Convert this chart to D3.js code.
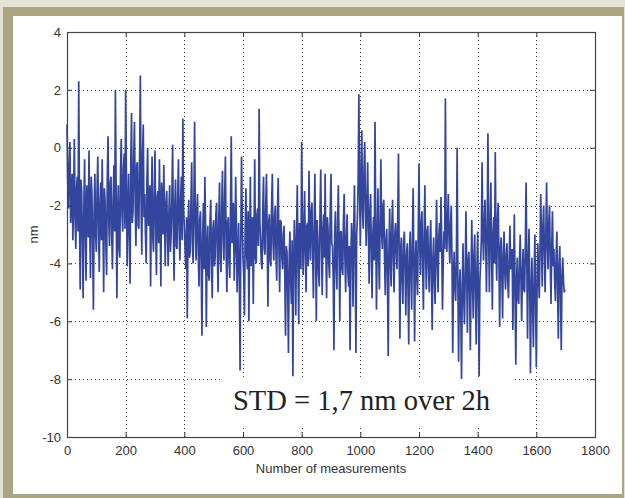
<!DOCTYPE html>
<html>
<head>
    <meta charset="utf-8">
    <title>Measurements</title>
    <script src="https://d3js.org/d3.v7.min.js"></script>
    <style>
        body { margin: 0; background: #e5e3d7; }
        svg { display: block; }
        .tick text { font-family: "Liberation Sans", Arial, sans-serif; font-size: 13px; fill: #333; }
        .tick line { stroke: #333; }
    </style>
</head>
<body>
    <div id="chart"></div>

    <script>
        // axis ticks
        var xTicks = [0, 200, 400, 600, 800, 1000, 1200, 1400, 1600, 1800];
        var yTicks = [4, 2, 0, -2, -4, -6, -8, -10];
        var step = 2.5; // one value read every 2.5 measurements

        var nm = [
            // 0 - 340
            0.8, -1.2, -2.1, -0.6, 0.2, -2.6, -1.8, -0.9, -3.2, -1.7, 0.3, -2.4, -3.5, -1.4, -1.0, -2.9, 2.3, -2.2, -4.9, -1.1,
            -1.5, -3.3, -5.2, -2.0, -0.4, -3.0, -4.6, -1.3, -2.0, -3.1, -0.1, -2.7, -4.5, -1.0, -1.6, -3.4, -5.6, -2.1, -0.9, -3.0,
            -3.6, -1.5, -0.3, -2.8, -4.3, -1.9, -1.2, -3.2, -0.4, -2.5, -5.0, -1.4, -1.9, -3.3, -4.4, -0.9, 0.4, -2.6, -3.4, -1.2,
            -1.0, -3.0, -4.2, -1.8, -0.6, -2.9, 2.0, -1.5, -5.2, -2.4, -1.3, -3.5, -3.8, -0.8, 0.3, -2.3, -2.9, -0.7, -0.2, -2.8,
            2.0, -1.0, -4.1, -2.2, -0.9, -3.1, -4.7, -0.5, 1.2, -2.6, -2.2, -0.3, 0.9, -1.9, -3.4, -0.6, -0.5, -2.7, -2.8, -0.4,
            2.5, -1.8, -3.7, -0.2, 0.8, -2.4, -1.6, -3.0, -4.0, -1.1, 0.0, -2.7, -2.5, -1.3, -4.8, -2.2, -0.3, -3.1, -3.6, -1.6,
            -0.1, -2.9, -4.4, -1.7, -1.5, -3.3, -0.4, -2.4, -4.8, -1.2, -2.0, -3.0, -0.6, -2.5, -4.1, -1.9,
            // 340 - 680
            -1.5, -3.0, -4.1, -2.2, -1.3, -3.6, -3.0, -1.8, 0.1, -2.7, -4.6, -2.0, -1.1, -3.4, -3.5, -1.6, -0.4, -2.9, -3.9, -1.7,
            -1.0, -3.2, 1.0, -2.1, -2.8, -3.5, -4.2, -2.4, -5.9, -3.0, -1.8, -3.8, -3.6, -1.9, -0.5, -3.3, -4.0, -2.0, 0.9, -2.6,
            -3.9, -2.2, -1.6, -3.7, -4.8, -2.5, -2.2, -4.0, -6.5, -3.1, -1.9, -4.2, -1.0, -2.9, -6.2, -3.4, -2.7, -4.4, -4.6, -2.6,
            -1.8, -3.9, -5.2, -2.8, -2.5, -4.1, -3.8, -2.3, -1.9, -3.6, -5.0, -2.4, -1.2, -3.8, -4.3, -2.0, -0.8, -3.1, -3.9, -1.7,
            -0.3, -3.5, -5.0, -2.6, -2.4, -4.0, -4.5, -2.1, 0.4, -3.3, -3.0, -1.9, -4.6, -3.6, -1.0, -2.7, -5.0, -3.9, -2.6, -4.3,
            -7.7, -3.2, -0.3, -2.5, -3.8, -4.4, -5.8, -2.8, -1.4, -3.7, -4.2, -2.2, -6.0, -3.5, -1.0, -4.1, -3.3, -2.4, -5.4, -3.0,
            -0.4, -3.8, -4.0, -2.3, -2.1, -3.4, 1.35, -2.6, -3.2, -4.0, -4.2, -2.1, -1.0, -3.5, -3.7, -2.0,
            // 680 - 1020
            -0.9, -3.1, -5.5, -2.6, -2.3, -3.9, -4.1, -2.0, -0.9, -3.3, -3.9, -2.4, -2.0, -3.7, -4.6, -2.2, -1.05, -3.5, -5.0, -2.5,
            -2.6, -3.8, -4.2, -3.0, -2.7, -4.4, -6.5, -3.4, -3.6, -5.0, -7.1, -3.8, -2.9, -4.6, -5.4, -3.2, -7.9, -4.3, -2.5, -3.6,
            -5.8, -3.0, -1.3, -4.0, -6.1, -2.6, -3.0, -4.2, 0.2, -2.4, -4.4, -3.1, -1.5, -3.6, -5.0, -2.7, -2.6, -4.1, -0.8, -2.9,
            -3.9, -2.2, -1.9, -3.7, -5.2, -2.8, -0.9, -3.4, -6.0, -2.5, -3.1, -4.3, -4.8, -2.3, -0.75, -3.2, -5.1, -2.9, -2.3, -3.8,
            -0.9, -3.5, -5.2, -2.4, -2.8, -4.0, -4.5, -2.1, -0.9, -3.3, -3.4, -4.4, -7.0, -3.0, -2.2, -4.1, -4.9, -2.6, -1.3, -3.6,
            -6.0, -2.9, -2.9, -4.2, -4.4, -2.5, -1.6, -3.8, -5.0, -3.1, -2.3, -4.3, -4.8, -3.4, -7.0, -4.0, -2.6, -3.2, -5.5, -2.7,
            -1.3, -3.9, -7.1, -3.0, -2.4, -1.2, 1.85, -1.5, -3.4, -1.0, 0.6, -2.2, -2.8, -0.8, 0.2, -2.0,
            // 1020 - 1360
            -3.4, -1.9, -0.5, -2.8, -4.7, -2.2, -1.6, -3.6, -5.2, -3.0, -2.4, -3.9, 0.9, -2.6, -5.6, -3.3, -1.4, -3.7, -4.9, -2.5,
            -0.4, -2.9, -3.5, -2.0, -1.8, -3.8, -5.1, -3.2, -2.8, -4.5, -7.2, -3.6, -2.1, -4.0, -4.8, -2.7, -1.8, -3.9, -5.0, -3.0,
            -2.6, -3.6, -4.2, -2.4, -0.2, -3.8, -6.6, -3.5, -3.1, -4.6, -5.4, -3.3, -2.9, -4.2, -5.8, -3.7, -3.3, -4.9, -6.8, -3.6,
            -2.9, -4.4, -5.6, -3.2, -1.4, -4.0, -6.7, -3.9, -3.2, -4.5, -5.1, -2.8, -0.55, -3.4, -4.4, -2.6, -2.2, -4.1, -5.6, -3.0,
            -1.3, -3.7, -4.9, -2.9, -2.7, -4.2, -5.0, -3.3, -2.5, -4.5, -6.3, -3.8, -3.1, -4.6, -5.4, -3.4, -1.8, -4.0, -5.0, -3.1,
            -2.6, -3.6, -1.7, -3.3, -5.6, -4.1, -2.9, -3.5, 1.7, -3.0, -3.6, -2.4, -1.6, -3.2, -4.0, -2.7, -2.0, -3.9, -7.1, -4.4,
            -3.6, -4.8, -5.3, -3.9, 0.0, -4.6, -7.4, -5.0, -4.2, -5.6, -8.0, -4.8, -3.3, -5.2, -6.1, -4.5,
            // 1360 - 1700
            -2.2, -4.1, -6.4, -3.9, -3.6, -5.0, -7.0, -4.4, -2.5, -4.7, -5.9, -3.7, -3.0, -5.1, -6.8, -4.2, -2.9, -5.3, -7.9, -4.6,
            -4.0, -3.2, -0.5, -2.9, -3.9, -2.6, -1.8, -3.4, -5.0, -2.8, 0.5, -3.1, -5.0, -2.7, -1.2, -3.6, -5.6, -3.0, -2.4, -4.0,
            -0.15, -3.3, -4.6, -2.5, -1.9, -3.8, -6.2, -3.5, -3.1, -4.5, -5.9, -3.6, -2.9, -4.3, -4.9, -3.7, -3.3, -4.6, -5.2, -3.9,
            -2.7, -4.2, -4.1, -3.5, -6.3, -4.4, -2.3, -5.0, -7.5, -4.6, -3.8, -5.2, -5.4, -4.0, -3.0, -4.5, -6.0, -4.3, -3.5, -4.9,
            -5.0, -3.4, -1.2, -3.8, -6.6, -4.1, -2.8, -4.7, -7.8, -5.0, -3.8, -5.5, -6.9, -4.6, -3.0, -5.3, -7.6, -4.9, -3.3, -4.4,
            -5.2, -3.5, -1.6, -3.2, -4.8, -2.7, -2.0, -3.6, -5.0, -3.0, -1.2, -3.3, -4.2, -2.6, -2.0, -3.9, -5.4, -3.4, -2.2, -4.1,
            -3.5, -4.6, -5.3, -3.8, -2.9, -4.9, -6.6, -4.0, -3.4, -5.1, -7.0, -4.4, -3.8, -4.6, -5.0, -4.9
        ];

        var width = 625, height = 498;
        var plotL = 67, plotR = 595, plotT = 32, plotB = 437;

        var svg = d3.select("#chart").append("svg")
            .attr("width", width)
            .attr("height", height);

        // khaki frame with white panel
        svg.append("rect")
            .attr("x", 3).attr("y", 7)
            .attr("width", 621).attr("height", 491)
            .attr("fill", "#aca582");
        svg.append("rect")
            .attr("x", 13).attr("y", 16)
            .attr("width", 609).attr("height", 478)
            .attr("fill", "#ffffff");

        var x = d3.scaleLinear().domain([0, 1800]).range([plotL, plotR]);
        var y = d3.scaleLinear().domain([-10, 4]).range([plotB, plotT]);

        // dotted grid
        var grid = svg.append("g")
            .attr("stroke", "#444")
            .attr("stroke-width", 1)
            .attr("stroke-dasharray", "1,3");
        grid.selectAll(".gx")
            .data(xTicks.slice(1, -1))
            .enter().append("line")
            .attr("x1", function(d) { return Math.round(x(d)) + 0.5; })
            .attr("x2", function(d) { return Math.round(x(d)) + 0.5; })
            .attr("y1", plotT).attr("y2", plotB);
        grid.selectAll(".gy")
            .data(yTicks.slice(1, -1))
            .enter().append("line")
            .attr("y1", function(d) { return Math.round(y(d)) + 0.5; })
            .attr("y2", function(d) { return Math.round(y(d)) + 0.5; })
            .attr("x1", plotL).attr("x2", plotR);

        // data line
        var line = d3.line()
            .x(function(d, i) { return x(i * step); })
            .y(function(d) { return y(d); });

        svg.append("path")
            .datum(nm)
            .attr("d", line)
            .attr("fill", "none")
            .attr("stroke", "#33459c")
            .attr("stroke-width", 1.7)
            .attr("stroke-linejoin", "bevel");

        // annotation box
        svg.append("rect")
            .attr("x", 223).attr("y", 379)
            .attr("width", 290).attr("height", 47)
            .attr("fill", "#ffffff");
        svg.append("text")
            .attr("x", 233)
            .attr("y", 410)
            .attr("textLength", 257)
            .attr("lengthAdjust", "spacingAndGlyphs")
            .style("font-family", "'Liberation Serif', 'Times New Roman', serif")
            .style("font-size", "30px")
            .style("fill", "#222")
            .text("STD = 1,7 nm over 2h");

        // axes: inward ticks on all four sides
        function styleAxis(g) {
            g.select(".domain").remove();
        }
        var plain = function(d) { return String(d); };
        svg.append("g")
            .attr("transform", "translate(0," + plotB + ")")
            .call(d3.axisBottom(x).tickValues(xTicks).tickSize(-5).tickPadding(9).tickFormat(plain))
            .call(styleAxis);
        svg.append("g")
            .attr("transform", "translate(0," + plotT + ")")
            .call(d3.axisTop(x).tickValues(xTicks).tickSize(-5).tickFormat(""))
            .call(styleAxis);
        svg.append("g")
            .attr("transform", "translate(" + plotL + ",0)")
            .call(d3.axisLeft(y).tickValues(yTicks).tickSize(-5).tickPadding(6).tickFormat(plain))
            .call(styleAxis);
        svg.append("g")
            .attr("transform", "translate(" + plotR + ",0)")
            .call(d3.axisRight(y).tickValues(yTicks).tickSize(-5).tickFormat(""))
            .call(styleAxis);

        // box
        svg.append("rect")
            .attr("x", plotL + 0.5).attr("y", plotT + 0.5)
            .attr("width", plotR - plotL).attr("height", plotB - plotT)
            .attr("fill", "none")
            .attr("stroke", "#444")
            .attr("stroke-width", 1.2);

        // axis labels
        svg.append("text")
            .attr("x", (plotL + plotR) / 2)
            .attr("y", 473)
            .style("text-anchor", "middle")
            .style("font-family", "'Liberation Sans', Arial, sans-serif")
            .style("font-size", "13px")
            .style("fill", "#333")
            .text("Number of measurements");

        svg.append("text")
            .attr("transform", "translate(38," + (plotT + plotB) / 2 + ") rotate(-90)")
            .style("text-anchor", "middle")
            .style("font-family", "'Liberation Sans', Arial, sans-serif")
            .style("font-size", "13px")
            .style("fill", "#333")
            .text("nm");
    </script>
</body>
</html>
